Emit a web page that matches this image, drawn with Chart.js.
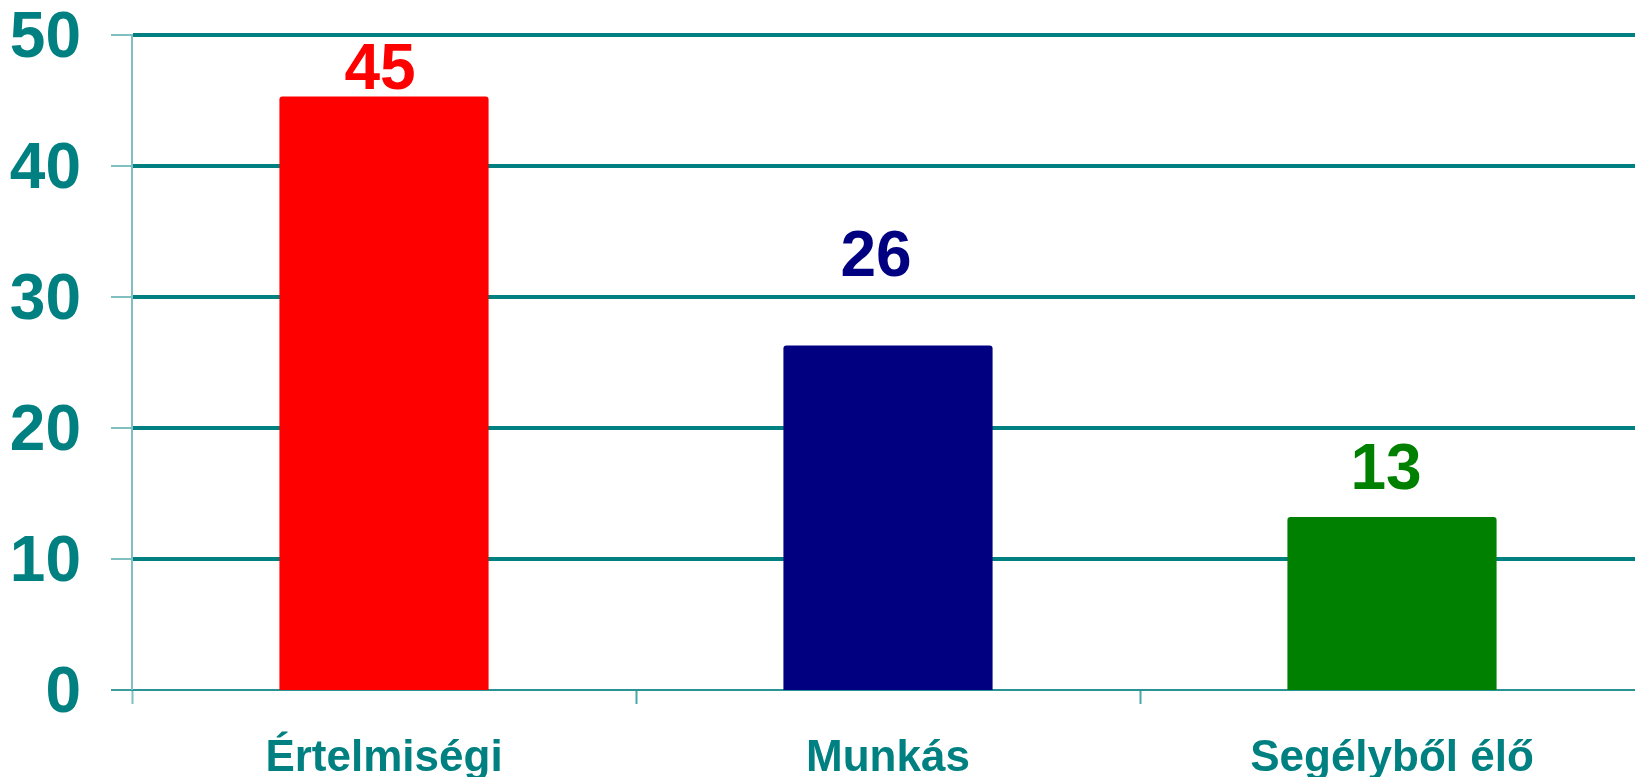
<!DOCTYPE html>
<html>
<head>
<meta charset="utf-8">
<script src="https://cdn.jsdelivr.net/npm/chart.js@4.4.1/dist/chart.umd.min.js"></script>
<style>
  html, body { margin: 0; padding: 0; background: #ffffff; overflow: hidden; }
  #wrap { width: 1635px; height: 777px; overflow: hidden; position: relative; }
  canvas { display: block; }
</style>
</head>
<body>
<div id="wrap"><canvas id="c" width="1644" height="777"></canvas></div>
<script>
const categories = ['Értelmiségi', 'Munkás', 'Segélyből élő'];
const values = [45.3, 26.3, 13.2];
const barColors = ['#ff0000', '#000080', '#008000'];
const yTicks = [0, 10, 20, 30, 40, 50];

const TEAL = '#008080';
const FONT = "'Liberation Sans', Arial, sans-serif";

const valueLabelPlugin = {
  id: 'valueLabels',
  afterDatasetsDraw(chart, args, opts) {
    const ctx = chart.ctx;
    const meta = chart.getDatasetMeta(0);
    ctx.save();
    ctx.font = 'bold ' + opts.size + 'px ' + FONT;
    ctx.textAlign = 'center';
    ctx.textBaseline = 'alphabetic';
    meta.data.forEach((bar, i) => {
      const v = chart.data.datasets[0].data[i];
      ctx.fillStyle = barColors[i];
      ctx.fillText(String(Math.round(v)), bar.x + opts.dx[i], bar.y - opts.dy[i]);
    });
    ctx.restore();
  }
};

new Chart(document.getElementById('c'), {
  type: 'bar',
  data: {
    labels: categories,
    datasets: [{
      data: values,
      backgroundColor: barColors,
      borderWidth: 0,
      borderRadius: { topLeft: 3, topRight: 3, bottomLeft: 0, bottomRight: 0 },
      borderSkipped: 'start',
      barPercentage: 0.415,
      categoryPercentage: 1.0
    }]
  },
  options: {
    responsive: false,
    animation: false,
    devicePixelRatio: 1,
    layout: { padding: { top: 35, left: 0, right: 0, bottom: 0 } },
    plugins: {
      legend: { display: false },
      tooltip: { enabled: false },
      valueLabels: { size: 64, dx: [-4, -12, -6], dy: [8, 69, 28] }
    },
    scales: {
      x: {
        offset: true,
        grid: {
          display: true,
          drawOnChartArea: false,
          drawTicks: true,
          tickLength: 14,
          tickColor: (c) => c.index === 0 ? '#80c0c0' : '#4aa6a6',
          tickWidth: 2,
          offset: true
        },
        border: { display: true, color: '#2a9393', width: 2 },
        ticks: {
          color: TEAL,
          padding: 28,
          maxRotation: 0,
          autoSkip: false,
          font: { family: FONT, size: 44, weight: 'bold' }
        },
        afterFit(scale) {
          scale.height = 87;
          scale.paddingLeft = 0;
          scale.paddingRight = 0;
        }
      },
      y: {
        min: 0,
        max: 50,
        afterBuildTicks(scale) {
          scale.ticks = yTicks.map(v => ({ value: v }));
        },
        grid: {
          color: TEAL,
          lineWidth: (c) => (c.tick && c.tick.value === 0) ? 0 : 4,
          drawTicks: true,
          tickLength: 21,
          tickColor: (c) => (c.tick && c.tick.value === 0) ? '#3d9d9d' : '#80c0c0',
          tickWidth: 2
        },
        border: { display: true, color: '#80c0c0', width: 2 },
        ticks: {
          color: TEAL,
          padding: 30,
          callback: (v) => ['', String(v)],
          font: { family: FONT, size: 64, weight: 'bold', lineHeight: 0.13 }
        },
        afterFit(scale) {
          scale.width = 132;
          scale.paddingTop = 0;
          scale.paddingBottom = 0;
        }
      }
    }
  },
  plugins: [valueLabelPlugin]
});
</script>
</body>
</html>
